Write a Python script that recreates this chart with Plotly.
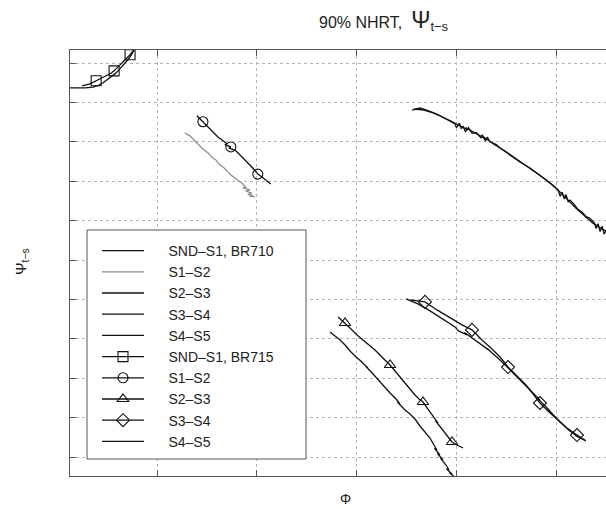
import plotly.graph_objects as go

# ---- tick positions (no tick labels are shown) ----
x_ticks = [1, 2, 3, 4, 5]
y_ticks = [1, 2, 3, 4, 5, 6, 7, 8, 9, 10, 11]

# ---- BR710 runs (plain lines) ----
snd_s1_710_x = [0.08, 0.18, 0.28, 0.36, 0.41, 0.46, 0.50, 0.53, 0.55, 0.58, 0.61, 0.63, 0.66, 0.69, 0.72, 0.75, 0.79]
snd_s1_710_y = [10.37, 10.37, 10.37, 10.39, 10.43, 10.50, 10.57, 10.64, 10.66, 10.73, 10.80, 10.86, 10.93, 11.02, 11.12, 11.24, 11.43]

s1_s2_710_x = [1.28, 1.33, 1.38, 1.43, 1.47, 1.51, 1.55, 1.59, 1.63, 1.67, 1.71, 1.74, 1.72, 1.78, 1.82, 1.86, 1.89, 1.86,
               1.93, 1.89, 1.95, 1.91, 1.96, 1.93, 1.98]
s1_s2_710_y = [9.22, 9.15, 9.02, 8.89, 8.79, 8.72, 8.61, 8.54, 8.41, 8.34, 8.23, 8.16, 8.20, 8.08, 8.01, 7.93, 7.85, 7.83,
               7.78, 7.75, 7.70, 7.66, 7.64, 7.62, 7.60]

s2_s3_710_x = [2.733, 2.784, 2.834, 2.884, 2.934, 2.994, 3.054, 3.03, 3.114, 3.09, 3.174, 3.234, 3.284, 3.335, 3.395, 3.435,
               3.41, 3.485, 3.535, 3.585, 3.635, 3.685, 3.735, 3.775, 3.805, 3.78, 3.835, 3.81, 3.866, 3.84, 3.896, 3.926,
               3.90, 3.956, 3.93, 3.996]
s2_s3_710_y = [4.173, 4.071, 3.970, 3.843, 3.690, 3.538, 3.411, 3.46, 3.259, 3.31, 3.081, 2.904, 2.777, 2.624, 2.472, 2.345,
               2.39, 2.193, 2.091, 1.964, 1.787, 1.635, 1.482, 1.305, 1.178, 1.22, 1.051, 1.09, 0.924, 0.97, 0.797, 0.670,
               0.70, 0.569, 0.60, 0.467]

s3_s4_710_x = [3.495, 3.615, 3.736, 3.866, 3.986, 4.02, 4.106, 4.08, 4.226, 4.20, 4.337, 4.31, 4.437, 4.537, 4.637, 4.737,
               4.837, 4.81, 4.938, 4.91, 5.038, 5.138, 5.11, 5.218, 5.19, 5.298]
s3_s4_710_y = [5.013, 4.886, 4.708, 4.505, 4.302, 4.20, 4.099, 4.16, 3.896, 3.95, 3.693, 3.75, 3.464, 3.211, 2.957, 2.703,
               2.447, 2.50, 2.168, 2.23, 1.888, 1.660, 1.72, 1.508, 1.55, 1.406]

s4_s5_710_x = [3.555, 3.635, 3.715, 3.805, 3.896, 3.986, 4.00, 4.03, 4.05, 4.066, 4.09, 4.12, 4.156, 4.20, 4.246, 4.26, 4.29,
               4.31, 4.337, 4.40, 4.437, 4.537, 4.637, 4.737, 4.837, 4.88, 4.938, 5.018, 5.04, 5.06, 5.08, 5.098, 5.12,
               5.14, 5.178, 5.22, 5.258, 5.30, 5.338, 5.38, 5.40, 5.419, 5.44, 5.46, 5.48, 5.499, 5.559]
s4_s5_710_y = [9.807, 9.858, 9.79, 9.706, 9.579, 9.452, 9.36, 9.47, 9.33, 9.40, 9.26, 9.36, 9.22, 9.23, 9.10, 9.18, 9.02,
               9.12, 9.00, 8.93, 8.843, 8.665, 8.487, 8.335, 8.157, 8.08, 7.954, 7.777, 7.62, 7.72, 7.55, 7.66, 7.48,
               7.52, 7.42, 7.28, 7.22, 7.10, 7.06, 6.95, 6.80, 6.92, 6.72, 6.86, 6.66, 6.74, 6.635]

# ---- BR715 runs (lines with sparse markers) ----
snd_s1_715_x = [0.25, 0.33, 0.39, 0.45, 0.51, 0.54, 0.57, 0.61, 0.65, 0.69, 0.73, 0.77, 0.80]
snd_s1_715_y = [10.42, 10.47, 10.55, 10.62, 10.70, 10.74, 10.80, 10.90, 11.00, 11.12, 11.21, 11.34, 11.44]
snd_s1_715_marks = [2, 6, 10]

s1_s2_715_x = [1.40, 1.46, 1.51, 1.56, 1.61, 1.65, 1.70, 1.68, 1.74, 1.72, 1.78, 1.81, 1.85, 1.89, 1.93, 1.97, 1.95,
               2.01, 2.05, 2.03, 2.09, 2.14]
s1_s2_715_y = [9.66, 9.51, 9.38, 9.25, 9.12, 9.05, 8.95, 8.93, 8.87, 8.84, 8.79, 8.72, 8.61, 8.51, 8.41, 8.31, 8.36,
               8.18, 8.11, 8.15, 8.03, 7.93]
s1_s2_715_marks = [1, 8, 17]

s2_s3_715_x = [2.814, 2.884, 2.944, 3.004, 3.064, 3.124, 3.10, 3.184, 3.245, 3.22, 3.295, 3.335, 3.385, 3.435, 3.485, 3.46,
               3.535, 3.585, 3.625, 3.665, 3.715, 3.766, 3.816, 3.79, 3.866, 3.84, 3.916, 3.956, 4.006, 4.066]
s2_s3_715_y = [4.553, 4.401, 4.249, 4.096, 3.970, 3.843, 3.90, 3.716, 3.563, 3.62, 3.437, 3.335, 3.183, 3.030, 2.878, 2.93,
               2.726, 2.574, 2.472, 2.396, 2.218, 2.041, 1.863, 1.92, 1.685, 1.74, 1.508, 1.381, 1.305, 1.229]
s2_s3_715_marks = [1, 11, 19, 27]

s3_s4_715_x = [3.535, 3.685, 3.805, 3.936, 4.056, 4.156, 4.256, 4.23, 4.357, 4.437, 4.517, 4.607, 4.697, 4.777, 4.837,
               4.928, 5.018, 5.108, 5.208, 5.18, 5.288]
s3_s4_715_y = [4.987, 4.937, 4.733, 4.530, 4.353, 4.226, 3.970, 4.03, 3.741, 3.538, 3.284, 3.056, 2.827, 2.574, 2.371,
               2.142, 1.939, 1.736, 1.558, 1.60, 1.431]
s3_s4_715_marks = [1, 5, 10, 14, 18]

s4_s5_715_x = [3.575, 3.675, 3.766, 3.856, 3.946, 4.036, 4.116, 4.09, 4.206, 4.297, 4.27, 4.387, 4.487, 4.587, 4.687, 4.787,
               4.888, 4.988, 5.058, 5.03, 5.138, 5.218, 5.19, 5.298, 5.379, 5.35, 5.459, 5.539]
s4_s5_715_y = [9.832, 9.807, 9.731, 9.629, 9.528, 9.401, 9.300, 9.36, 9.198, 9.071, 9.13, 8.919, 8.766, 8.589, 8.411, 8.234,
               8.056, 7.853, 7.675, 7.73, 7.472, 7.269, 7.33, 7.091, 6.914, 6.97, 6.787, 6.685]

FONT = "Liberation Sans, Arial, Helvetica, sans-serif"
INK = "#111111"
TEXT = "#222222"
FRAME = "#555555"
GREY_LINE = "#8f8f8f"
NB = "\u00a0" * 5  # gap between legend sample and its label

series = [
    ("SND–S1, BR710", snd_s1_710_x, snd_s1_710_y, None, None, INK),
    ("S1–S2", s1_s2_710_x, s1_s2_710_y, None, None, GREY_LINE),
    ("S2–S3", s2_s3_710_x, s2_s3_710_y, None, None, INK),
    ("S3–S4", s3_s4_710_x, s3_s4_710_y, None, None, INK),
    ("S4–S5", s4_s5_710_x, s4_s5_710_y, None, None, INK),
    ("SND–S1, BR715", snd_s1_715_x, snd_s1_715_y, "square-open", snd_s1_715_marks, INK),
    ("S1–S2", s1_s2_715_x, s1_s2_715_y, "circle-open", s1_s2_715_marks, INK),
    ("S2–S3", s2_s3_715_x, s2_s3_715_y, "triangle-up-open", s2_s3_715_marks, INK),
    ("S3–S4", s3_s4_715_x, s3_s4_715_y, "diamond-open", s3_s4_715_marks, INK),
    ("S4–S5", s4_s5_715_x, s4_s5_715_y, None, None, INK),
]

fig = go.Figure()
for name, xs, ys, symbol, marks, color in series:
    if symbol is None:
        fig.add_trace(go.Scatter(x=xs, y=ys, mode="lines", name=NB + name,
                                 line=dict(color=color, width=1.3)))
    else:
        fig.add_trace(go.Scatter(
            x=xs, y=ys, mode="lines+markers", name=NB + name,
            line=dict(color=color, width=1.3),
            marker=dict(symbol=symbol, size=10, color=color, line=dict(width=1.1, color=color)),
            selectedpoints=marks,
            selected=dict(marker=dict(opacity=1)),
            unselected=dict(marker=dict(opacity=0)),
        ))

W, H = 606, 509
L, R, T, B = 70, 0, 50, 33
pw, ph = W - L - R, H - T - B


def px_x(p):
    return (p - L) / pw


def px_y(p):
    return (H - B - p) / ph


axis_common = dict(
    showticklabels=False, ticks="inside", ticklen=6, tickcolor=FRAME,
    showline=True, linecolor=FRAME, linewidth=1,
    showgrid=True, gridcolor="#b5b5b5", griddash="dot", gridwidth=1,
    zeroline=False,
)

fig.update_layout(
    width=W, height=H,
    margin=dict(l=L, r=R, t=T, b=B, pad=0),
    paper_bgcolor="white", plot_bgcolor="white",
    font=dict(family=FONT, size=14, color=INK),
    showlegend=True,
    xaxis=dict(range=[0.128, 5.499], tickvals=x_ticks, mirror="ticks", **axis_common),
    yaxis=dict(range=[0.518, 11.33], tickvals=y_ticks, mirror=False, **axis_common),
    yaxis2=dict(range=[0.518, 11.33], tickvals=y_ticks, overlaying="y", side="right", anchor="x",
                showticklabels=False, ticks="inside", ticklen=6, tickcolor=FRAME,
                showline=False, showgrid=False, zeroline=False),
    legend=dict(
        x=px_x(97), y=px_y(235), xanchor="left", yanchor="top",
        bgcolor="rgba(0,0,0,0)", borderwidth=0,
        font=dict(family=FONT, size=14, color=TEXT),
        itemwidth=42, tracegroupgap=0, traceorder="normal",
    ),
    shapes=[dict(
        type="rect", xref="paper", yref="paper", layer="above",
        x0=px_x(87), x1=px_x(306), y0=px_y(459), y1=px_y(230),
        line=dict(color=FRAME, width=1), fillcolor="white",
    )],
    annotations=[
        dict(text="90% NHRT,\u00a0 <span style='font-size:23px'>Ψ</span>"
                  "<sub><span style='font-size:13px'>t−s</span></sub>",
             xref="paper", yref="paper", x=px_x(317), y=px_y(36),
             xanchor="left", yanchor="bottom", showarrow=False,
             font=dict(family=FONT, size=16, color=TEXT)),
        dict(text="Φ", xref="paper", yref="paper", x=px_x(345), y=px_y(509),
             xanchor="center", yanchor="bottom", showarrow=False,
             font=dict(family=FONT, size=14, color=TEXT)),
        dict(text="Ψ<sub>t−s</sub>", xref="paper", yref="paper", x=px_x(21), y=px_y(262),
             xanchor="center", yanchor="middle", textangle=-90, showarrow=False,
             font=dict(family=FONT, size=15, color=TEXT)),
    ],
)

fig.write_html("out.html")
